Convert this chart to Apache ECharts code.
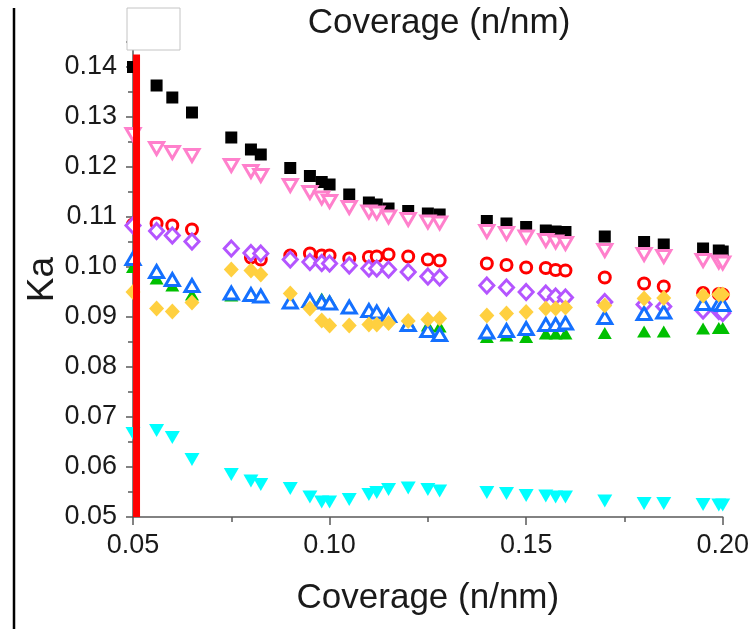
<!DOCTYPE html>
<html>
<head>
<meta charset="utf-8">
<script src="https://cdn.jsdelivr.net/npm/echarts@6/dist/echarts.min.js"></script>
<style>
  html, body { margin: 0; padding: 0; background: #ffffff; }
  #chart { width: 752px; height: 629px; }
</style>
</head>
<body>
<div id="chart"></div>
<script>
// Coverage values (n/nm) shared by every series
const coverage = [0.05, 0.056, 0.06, 0.065, 0.075, 0.08, 0.0825, 0.09, 0.095, 0.098, 0.1, 0.105,
  0.11, 0.112, 0.115, 0.12, 0.125, 0.128, 0.14, 0.145, 0.15, 0.155, 0.1575, 0.16, 0.17, 0.18,
  0.185, 0.195, 0.199, 0.2];

// Ka values, one array per series
const kaSquares = [0.1400, 0.1363, 0.1339, 0.1309, 0.1259, 0.1235, 0.1225, 0.1198, 0.1182, 0.1170,
  0.1165, 0.1145, 0.1129, 0.1125, 0.1117, 0.1112, 0.1107, 0.1105, 0.1092, 0.1087, 0.1080, 0.1073,
  0.1071, 0.1070, 0.1061, 0.1050, 0.1045, 0.1037, 0.1033, 0.1031];
const kaPinkDown = [0.1265, 0.1237, 0.1229, 0.1223, 0.1203, 0.1191, 0.1183, 0.1163, 0.1149, 0.1138,
  0.1131, 0.1119, 0.1110, 0.1108, 0.1100, 0.1095, 0.1090, 0.1088, 0.1071, 0.1067, 0.1060, 0.1053,
  0.1050, 0.1047, 0.1033, 0.1025, 0.1021, 0.1013, 0.1010, 0.1008];
const kaCircles = [0.1085, 0.1087, 0.1083, 0.1075, null, 0.1019, 0.1015, 0.1023, 0.1027, 0.1023,
  0.1023, 0.1017, 0.1020, 0.1021, 0.1025, 0.1021, 0.1015, 0.1013, 0.1007, 0.1004, 0.0999, 0.0998,
  0.0994, 0.0993, 0.0979, 0.0967, 0.0961, 0.0948, 0.0946, 0.0945];
const kaDiamonds = [0.1083, 0.1072, 0.1063, 0.1051, 0.1037, 0.1028, 0.1027, 0.1015, 0.1010, 0.1008,
  0.1007, 0.1003, 0.0997, 0.0997, 0.0995, 0.0990, 0.0981, 0.0979, 0.0963, 0.0959, 0.0950, 0.0947,
  0.0941, 0.0939, 0.0930, 0.0925, 0.0921, 0.0913, 0.0912, 0.0908];
const kaGreenUp = [0.1000, 0.0977, 0.0963, 0.0945, 0.0943, 0.0942, 0.0940, 0.0932, 0.0937, 0.0937,
  0.0933, 0.0923, 0.0912, 0.0910, 0.0905, 0.0890, 0.0883, 0.0881, 0.0860, 0.0863, 0.0860, 0.0867,
  0.0867, 0.0867, 0.0868, 0.0871, 0.0871, 0.0877, 0.0878, 0.0878];
const kaBlueUp = [0.1017, 0.0991, 0.0975, 0.0963, 0.0948, 0.0945, 0.0942, 0.0930, 0.0933, 0.0930,
  0.0928, 0.0920, 0.0913, 0.0910, 0.0903, 0.0885, 0.0873, 0.0865, 0.0870, 0.0873, 0.0877, 0.0885,
  0.0885, 0.0888, 0.0899, 0.0907, 0.0910, 0.0927, 0.0926, 0.0925];
const kaGold = [0.0950, 0.0917, 0.0911, 0.0929, 0.0995, 0.0993, 0.0985, 0.0947, 0.0917, 0.0893,
  0.0883, 0.0883, 0.0885, 0.0885, 0.0888, 0.0892, 0.0895, 0.0897, 0.0903, 0.0907, 0.0910, 0.0917,
  0.0917, 0.0919, 0.0923, 0.0937, 0.0938, 0.0943, 0.0945, 0.0945];
const kaCyanDown = [0.0667, 0.0673, 0.0659, 0.0615, 0.0585, 0.0572, 0.0565, 0.0557, 0.0540, 0.0530,
  0.0530, 0.0535, 0.0545, 0.0549, 0.0555, 0.0558, 0.0555, 0.0552, 0.0549, 0.0547, 0.0543, 0.0542,
  0.0540, 0.0540, 0.0532, 0.0527, 0.0527, 0.0525, 0.0524, 0.0524];

// Vertical reference bar at the lowest coverage
const refCoverage = 0.0509;
const refKaRange = [0.05, 0.1425];

const axisTitle = 'Coverage (n/nm)';
const yTitle = 'Ka';

const FONT = '"Liberation Sans", Arial, sans-serif';
const AXIS_GREY = '#5a5a5a';

function pairs(ys) {
  const out = [];
  for (let i = 0; i < coverage.length; i++) {
    if (ys[i] !== null) out.push([coverage[i], ys[i]]);
  }
  return out;
}

function scatter(name, ys, symbol, size, color, open, rotate) {
  return {
    name: name,
    type: 'scatter',
    data: pairs(ys),
    symbol: symbol,
    symbolSize: size,
    symbolRotate: rotate || 0,
    clip: false,
    itemStyle: open
      ? { color: '#ffffff', borderColor: color, borderWidth: 3, opacity: 1 }
      : { color: color, borderWidth: 0, opacity: 1 },
    emphasis: { disabled: true },
    z: 3
  };
}

const chart = echarts.init(document.getElementById('chart'), null, { renderer: 'canvas' });

chart.setOption({
  backgroundColor: '#ffffff',
  animation: false,
  grid: { left: 133, right: 28, top: 42, bottom: 112, containLabel: false },
  xAxis: {
    type: 'value',
    min: 0.05,
    max: 0.20,
    interval: 0.05,
    name: axisTitle,
    nameLocation: 'middle',
    nameGap: 64,
    nameMoveOverlap: false,
    nameTextStyle: { fontFamily: FONT, fontSize: 35, color: '#1a1a1a' },
    axisLine: { show: true, onZero: false, lineStyle: { color: AXIS_GREY, width: 1.5 } },
    axisTick: { show: true, inside: false, length: 8, lineStyle: { color: AXIS_GREY, width: 1.5 } },
    minorTick: { show: true, splitNumber: 2, length: 5, lineStyle: { color: AXIS_GREY, width: 1.5 } },
    splitLine: { show: false },
    minorSplitLine: { show: false },
    axisLabel: {
      fontFamily: FONT, fontSize: 27, color: '#1a1a1a', margin: 15,
      formatter: v => v.toFixed(2)
    }
  },
  yAxis: {
    type: 'value',
    min: 0.05,
    max: 0.145,
    interval: 0.01,
    name: yTitle,
    nameLocation: 'middle',
    nameGap: 72,
    nameMoveOverlap: false,
    nameRotate: 90,
    nameTextStyle: { fontFamily: FONT, fontSize: 37, color: '#1a1a1a' },
    axisLine: { show: true, onZero: false, lineStyle: { color: AXIS_GREY, width: 1.5 } },
    axisTick: { show: true, inside: false, length: 7, lineStyle: { color: AXIS_GREY, width: 1.5 } },
    minorTick: { show: true, splitNumber: 2, length: 5, lineStyle: { color: AXIS_GREY, width: 1.5 } },
    splitLine: { show: false },
    minorSplitLine: { show: false },
    axisLabel: {
      fontFamily: FONT, fontSize: 27, color: '#1a1a1a', margin: 16,
      showMaxLabel: false,
      formatter: v => (Math.abs(v * 100 - Math.round(v * 100)) < 1e-6 ? v.toFixed(2) : '')
    }
  },
  series: [
    scatter('squares', kaSquares, 'rect', 12, '#000000', false),
    scatter('pink down', kaPinkDown, 'triangle', [14, 12], '#ff80cc', true, 180),
    scatter('circles', kaCircles, 'circle', 11, '#ff0000', true),
    scatter('diamonds', kaDiamonds, 'diamond', [14, 15], '#b455ff', true),
    scatter('green up', kaGreenUp, 'triangle', [14, 12], '#00c000', false),
    scatter('blue up', kaBlueUp, 'triangle', [14, 12], '#1470ff', true),
    scatter('gold', kaGold, 'diamond', [15, 16], '#ffd040', false),
    scatter('cyan down', kaCyanDown, 'triangle', [15, 13], '#00ffff', false, 180),
    {
      name: 'reference',
      type: 'line',
      data: refKaRange.map(k => [refCoverage, k]),
      symbol: 'none',
      clip: false,
      lineStyle: { color: '#ff0000', width: 7, cap: 'butt' },
      emphasis: { disabled: true },
      z: 10
    }
  ],
  graphic: [
    {
      type: 'line',
      shape: { x1: 14, y1: 8, x2: 14, y2: 629 },
      style: { stroke: '#000000', lineWidth: 2.5 },
      z: 100
    },
    {
      type: 'rect',
      shape: { x: 127, y: 8, width: 53, height: 42 },
      style: { fill: '#ffffff', stroke: '#c4c4c4', lineWidth: 1 },
      z: 100
    },
    {
      type: 'text',
      x: 439,
      y: 23,
      style: {
        text: axisTitle,
        font: '35px ' + FONT,
        fill: '#1a1a1a',
        textAlign: 'center',
        textVerticalAlign: 'middle'
      },
      z: 100
    }
  ]
});
</script>
</body>
</html>
